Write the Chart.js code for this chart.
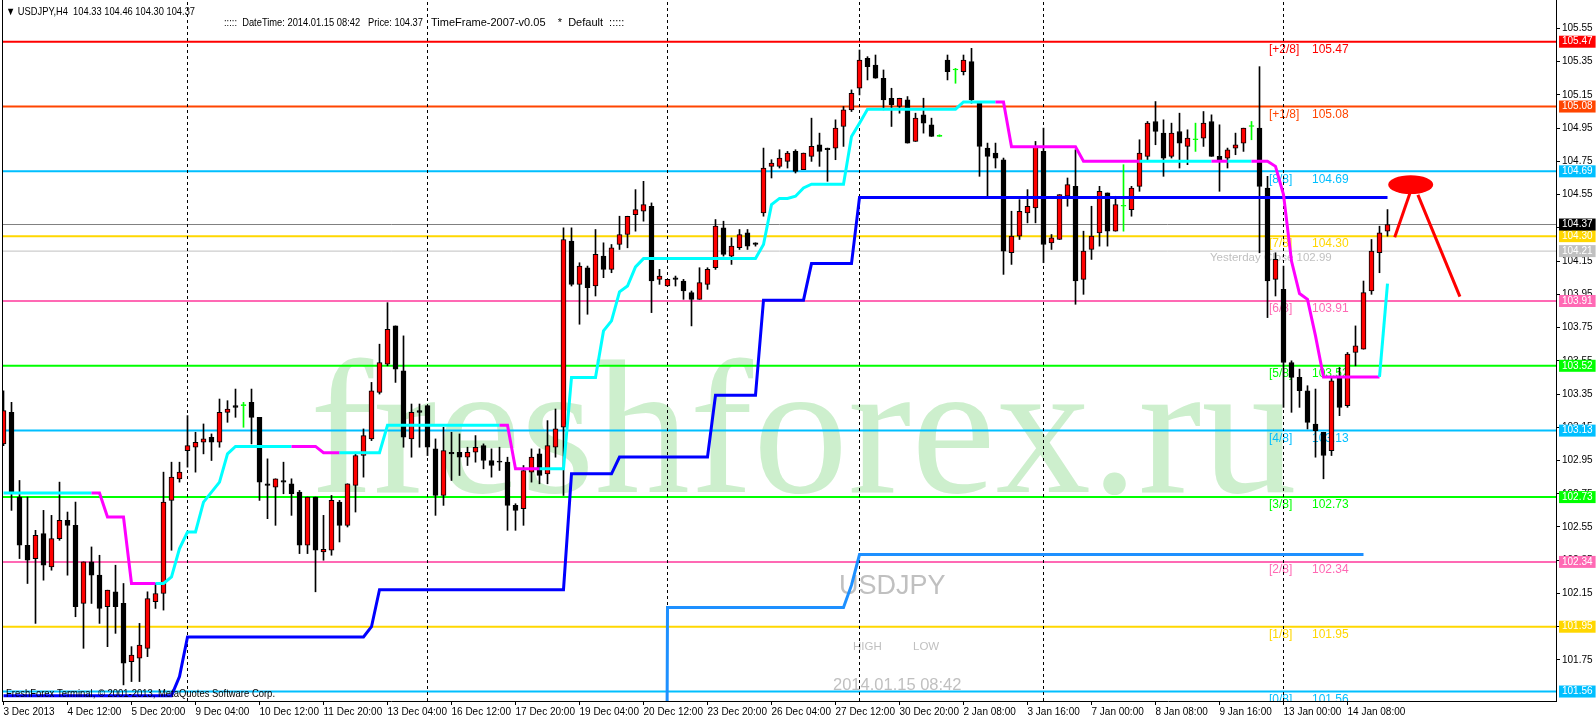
<!DOCTYPE html>
<html><head><meta charset="utf-8">
<script src="https://cdn.jsdelivr.net/npm/chart.js@4.4.1/dist/chart.umd.min.js"></script>
<style>html,body{margin:0;padding:0;background:#fff;overflow:hidden}canvas{display:block}</style>
</head><body>
<canvas id="c" width="1596" height="720"></canvas>
<script>
// ---------- data ----------
const xLabels = ["3 Dec 2013","4 Dec 12:00","5 Dec 20:00","9 Dec 04:00","10 Dec 12:00","11 Dec 20:00","13 Dec 04:00","16 Dec 12:00","17 Dec 20:00","19 Dec 04:00","20 Dec 12:00","23 Dec 20:00","26 Dec 04:00","27 Dec 12:00","30 Dec 20:00","2 Jan 08:00","3 Jan 16:00","7 Jan 00:00","8 Jan 08:00","9 Jan 16:00","13 Jan 00:00","14 Jan 08:00"];
const xTickIdx = [0,8,16,24,32,40,48,56,64,72,80,88,96,104,112,120,128,136,144,152,160,168];
const weekSeparators = [23,53,83,107,130,160];

const openP = [103.05,103.24,102.73,102.44,102.36,102.51,102.31,102.48,102.59,102.56,
102.09,102.34,102.26,102.07,102.16,102.09,101.74,101.76,101.82,102.10,
102.15,102.71,102.84,103.01,103.03,103.06,103.09,103.06,103.24,103.28,
103.28,103.30,103.21,102.81,102.79,102.83,102.81,102.76,102.44,102.73,
102.40,102.41,102.70,102.56,102.80,102.98,103.08,103.36,103.53,103.76,
103.49,103.08,103.25,103.28,103.02,102.74,103.00,103.00,102.97,103.00,
103.04,102.95,102.945,102.94,102.68,102.66,102.88,102.99,102.87,103.03,
103.15,104.27,104.01,104.11,104.00,104.18,104.10,104.25,104.31,104.43,
104.45,104.48,104.04,104.00,104.05,104.03,103.96,103.92,104.01,104.11,
104.35,104.18,104.23,104.32,104.26,104.44,104.72,104.72,104.75,104.81,
104.70,104.78,104.85,104.83,104.83,104.96,105.06,105.19,105.37,105.33,
105.25,105.13,105.08,105.12,104.87,105.03,104.97,104.90,105.36,105.30,
105.29,105.35,105.10,104.83,104.80,104.76,104.20,104.30,104.44,104.47,
104.81,104.26,104.28,104.54,104.60,104.04,104.22,104.32,104.56,104.33,
104.48,104.46,104.60,104.78,104.99,104.92,104.78,104.93,104.84,104.88,
104.89,104.99,104.78,104.77,104.83,104.86,104.96,104.95,104.59,104.04,
103.98,103.54,103.45,103.37,103.17,103.12,103.01,103.45,103.28,103.60,
103.62,103.97,104.20,104.33];
const highP = [103.37,103.30,102.83,102.73,102.53,102.65,102.62,102.82,102.64,102.70,
102.34,102.43,102.38,102.17,102.32,102.21,101.83,101.97,102.16,102.21,
102.88,102.94,102.94,103.22,103.12,103.17,103.11,103.32,103.31,103.38,
103.30,103.38,103.21,102.96,102.84,102.94,102.84,102.77,102.73,102.73,
102.62,102.74,102.71,102.81,103.00,103.14,103.42,103.65,103.90,103.76,
103.70,103.29,103.29,103.28,103.08,103.15,103.12,103.11,103.03,103.10,
103.05,103.02,103.03,102.97,102.69,102.92,103.02,103.02,103.19,103.26,
104.35,104.35,104.14,104.12,104.34,104.26,104.25,104.42,104.42,104.58,
104.63,104.50,104.10,104.04,104.06,104.04,103.97,104.11,104.11,104.40,
104.39,104.29,104.34,104.34,104.26,104.83,104.76,104.82,104.81,104.82,
104.80,105.01,104.92,104.83,105.00,105.08,105.18,105.42,105.38,105.39,
105.30,105.19,105.13,105.14,105.04,105.13,105.01,104.91,105.39,105.31,
105.39,105.43,105.10,104.86,104.86,104.77,104.45,104.52,104.58,104.87,
104.95,104.31,104.55,104.65,104.82,104.33,104.48,104.60,104.56,104.54,
104.73,104.60,104.88,104.99,105.11,105.00,104.98,105.04,104.94,104.98,
105.05,105.03,104.97,104.83,104.92,104.95,104.99,105.32,104.66,104.20,
104.12,103.55,103.50,103.40,103.38,103.12,103.45,103.51,103.60,103.76,
104.03,104.28,104.36,104.46];
const lowP = [103.04,102.65,102.36,102.21,101.97,102.23,102.29,102.47,102.26,102.01,
101.82,102.09,101.97,101.83,101.91,101.60,101.62,101.62,101.77,102.06,
102.05,102.41,102.82,102.91,102.88,102.99,102.95,103.03,103.18,103.21,
103.15,103.05,102.71,102.60,102.56,102.75,102.62,102.39,102.39,102.16,
102.35,102.38,102.46,102.55,102.64,102.85,103.07,103.35,103.52,103.42,
103.03,102.97,103.03,102.98,102.62,102.68,102.83,102.86,102.92,102.94,
102.90,102.85,102.89,102.53,102.53,102.56,102.82,102.81,102.81,102.97,
102.74,104.00,103.77,103.83,103.94,104.05,104.08,104.22,104.23,104.33,
104.39,103.84,104.01,104.00,104.00,103.92,103.76,103.92,103.98,104.10,
104.18,104.13,104.22,104.22,104.24,104.42,104.65,104.71,104.71,104.68,
104.70,104.75,104.72,104.63,104.76,104.84,105.05,105.15,105.24,105.25,
105.06,104.96,105.04,104.86,104.87,104.92,104.90,104.90,105.24,105.22,
105.27,105.10,104.66,104.54,104.71,104.07,104.13,104.28,104.38,104.38,
104.14,104.22,104.28,104.48,103.89,103.95,104.16,104.24,104.24,104.33,
104.33,104.42,104.57,104.76,104.85,104.66,104.77,104.71,104.73,104.81,
104.84,104.78,104.57,104.71,104.79,104.81,104.88,104.20,103.81,103.94,
103.27,103.24,103.27,103.14,102.97,102.84,102.98,103.22,103.27,103.52,
103.62,103.95,104.08,104.30];
const closeP = [103.25,102.76,102.44,102.35,102.50,102.32,102.48,102.59,102.56,102.07,
102.34,102.26,102.06,102.17,102.07,101.73,101.78,101.84,102.12,102.15,
102.70,102.85,102.88,103.04,103.06,103.08,103.06,103.24,103.26,103.27,
103.28,103.21,102.82,102.80,102.84,102.82,102.75,102.44,102.73,102.41,
102.415,102.71,102.56,102.81,102.98,103.10,103.37,103.54,103.74,103.50,
103.09,103.24,103.24,103.03,102.74,103.01,102.99,102.97,103.00,103.03,
102.95,102.92,102.94,102.68,102.65,102.89,102.97,102.86,103.04,103.14,
104.28,104.01,104.12,103.99,104.19,104.10,104.23,104.31,104.42,104.46,
104.49,104.03,104.06,104.04,104.04,103.97,103.92,104.02,104.10,104.36,
104.19,104.24,104.31,104.24,104.25,104.71,104.74,104.77,104.80,104.69,
104.80,104.84,104.81,104.82,104.95,105.06,105.16,105.36,105.32,105.25,
105.12,105.09,105.13,104.86,105.01,104.98,104.90,104.90,105.29,105.30,
105.36,105.12,104.84,104.78,104.77,104.21,104.30,104.45,104.48,104.84,
104.25,104.29,104.55,104.61,104.03,104.21,104.30,104.57,104.33,104.49,
104.48,104.59,104.80,104.98,104.93,104.77,104.92,104.86,104.89,104.88,
104.98,104.78,104.76,104.82,104.85,104.95,104.96,104.60,104.03,104.16,
103.54,103.45,103.37,103.18,103.13,102.98,103.43,103.27,103.59,103.64,
103.96,104.21,104.32,104.37];

// trailing line (cyan when bullish, magenta when bearish)
const trendLine = [102.755,102.755,102.755,102.755,102.755,102.755,102.755,102.755,102.755,102.755,
102.755,102.755,102.755,102.61,102.61,102.61,102.21,102.21,102.21,102.21,
102.21,102.25,102.42,102.52,102.52,102.70,102.76,102.82,102.99,103.035,
103.035,103.035,103.035,103.035,103.035,103.035,103.035,103.035,103.035,103.035,
102.997,102.997,102.997,102.997,102.997,102.997,102.997,102.997,103.162,103.162,
103.162,103.162,103.162,103.162,103.162,103.162,103.162,103.162,103.162,103.162,
103.162,103.162,103.162,103.162,102.90,102.90,102.90,102.90,102.90,102.90,
102.90,103.45,103.45,103.45,103.45,103.73,103.79,103.965,104.00,104.115,
104.165,104.165,104.165,104.165,104.165,104.165,104.165,104.165,104.165,104.165,
104.165,104.165,104.165,104.165,104.165,104.25,104.49,104.527,104.527,104.54,
104.59,104.613,104.613,104.613,104.613,104.613,104.90,104.98,105.064,105.064,
105.064,105.064,105.064,105.064,105.064,105.064,105.064,105.064,105.064,105.064,
105.108,105.108,105.108,105.108,105.108,105.108,104.838,104.838,104.838,104.838,
104.838,104.838,104.838,104.838,104.838,104.751,104.751,104.751,104.751,104.751,
104.751,104.751,104.751,104.751,104.751,104.751,104.751,104.751,104.751,104.751,
104.751,104.751,104.751,104.751,104.751,104.751,104.751,104.751,104.751,104.72,
104.55,104.15,103.955,103.92,103.70,103.453,103.453,103.453,103.453,103.453,
103.453,103.453,103.453,104.015];
const bearRanges = [[11,19],[36,42],[62,67],[124,142],[151,153],[156,172]];

// blue step line
const stepLine = [101.535,101.535,101.535,101.535,101.535,101.535,101.535,101.535,101.535,101.535,
101.535,101.535,101.535,101.535,101.535,101.535,101.535,101.535,101.535,101.535,
101.535,101.535,101.65,101.888,101.888,101.888,101.888,101.888,101.888,101.888,
101.888,101.888,101.888,101.888,101.888,101.888,101.888,101.888,101.888,101.888,
101.888,101.888,101.888,101.888,101.888,101.888,101.95,102.173,102.173,102.173,
102.173,102.173,102.173,102.173,102.173,102.173,102.173,102.173,102.173,102.173,
102.173,102.173,102.173,102.173,102.173,102.173,102.173,102.173,102.173,102.173,
102.173,102.87,102.87,102.87,102.87,102.87,102.87,102.971,102.971,102.971,
102.971,102.971,102.971,102.971,102.971,102.971,102.971,102.971,102.971,103.343,
103.343,103.343,103.343,103.343,103.343,103.915,103.915,103.915,103.915,103.915,
103.915,104.135,104.135,104.135,104.135,104.135,104.135,104.533,104.533,104.533,
104.533,104.533,104.533,104.533,104.533,104.533,104.533,104.533,104.533,104.533,
104.533,104.533,104.533,104.533,104.533,104.533,104.533,104.533,104.533,104.533,
104.533,104.533,104.533,104.533,104.533,104.533,104.533,104.533,104.533,104.533,
104.533,104.533,104.533,104.533,104.533,104.533,104.533,104.533,104.533,104.533,
104.533,104.533,104.533,104.533,104.533,104.533,104.533,104.533,104.533,104.533,
104.533,104.533,104.533,104.533,104.533,104.533,104.533,104.533,104.533,104.533,
104.533,104.533,104.533,104.533];

// dodger-blue line (starts from below the chart at bar 82)
const lightLine = [null,null,null,null,null,null,null,null,null,null,
null,null,null,null,null,null,null,null,null,null,
null,null,null,null,null,null,null,null,null,null,
null,null,null,null,null,null,null,null,null,null,
null,null,null,null,null,null,null,null,null,null,
null,null,null,null,null,null,null,null,null,null,
null,null,null,null,null,null,null,null,null,null,
null,null,null,null,null,null,null,null,null,null,
null,null,90.0,102.065,102.065,102.065,102.065,102.065,102.065,102.065,
102.065,102.065,102.065,102.065,102.065,102.065,102.065,102.065,102.065,102.065,
102.065,102.065,102.065,102.065,102.065,102.065,102.20,102.384,102.384,102.384,
102.384,102.384,102.384,102.384,102.384,102.384,102.384,102.384,102.384,102.384,
102.384,102.384,102.384,102.384,102.384,102.384,102.384,102.384,102.384,102.384,
102.384,102.384,102.384,102.384,102.384,102.384,102.384,102.384,102.384,102.384,
102.384,102.384,102.384,102.384,102.384,102.384,102.384,102.384,102.384,102.384,
102.384,102.384,102.384,102.384,102.384,102.384,102.384,102.384,102.384,102.384,
102.384,102.384,102.384,102.384,102.384,102.384,102.384,102.384,102.384,102.384,
102.384,null,null,null];

const levelValues = [105.47,105.08,104.69,104.30,103.91,103.52,103.13,102.73,102.34,101.95,101.56];
const levelTags = ["[+2/8]","[+1/8]","[8/8]","[7/8]","[6/8]","[5/8]","[4/8]","[3/8]","[2/8]","[1/8]","[0/8]"];
const bidPrice = 104.37;
const prevLine = 104.21;
const yesterdayClose = 102.99;
const yTicks = [105.55,105.35,105.15,104.95,104.75,104.55,104.35,104.15,103.95,103.75,103.55,103.35,103.15,102.95,102.75,102.55,102.35,102.15,101.95,101.75];
const lastBar = {o:104.33, h:104.46, l:104.30, c:104.37};
const arrowLeft = [{x:173.9,y:104.293},{x:175.8,y:104.558}];
const arrowRight = [{x:176.8,y:104.548},{x:182.05,y:103.936}];
const arrowHead = {x:175.9, y:104.61, rx:2.81, ry:0.057};

// ---------- styles ----------
const levelColors = ['#FF0000','#FF4500','#00BFFF','#FFD700','#FF69B4','#00FF00','#00BFFF','#00FF00','#FF69B4','#FFD700','#00BFFF'];
const X_MIN = -0.0625, X_MAX = 194.0625;
const Y_MAX = 105.721, Y_MIN = 101.503;
const FONT = '"Liberation Sans", Arial, sans-serif';

Chart.defaults.font.family = FONT;
Chart.defaults.font.size = 10;
Chart.defaults.color = '#000';

const isBear = i => bearRanges.some(r => i >= r[0] && i < r[1]);
const candleCol = i => closeP[i] > openP[i] ? '#FF0000' : (closeP[i] < openP[i] ? '#000000' : '#00FF00');
const isDoji = i => closeP[i] === openP[i];

const datasets = [];
levelValues.forEach((v,k) => datasets.push({
  type:'line', data:[{x:X_MIN,y:v},{x:X_MAX,y:v}], borderColor:levelColors[k], borderWidth:2,
  pointRadius:0, order:100
}));
datasets.push({type:'line', data:[{x:X_MIN,y:bidPrice},{x:X_MAX,y:bidPrice}], borderColor:'#808080', borderWidth:1, pointRadius:0, order:99});
datasets.push({type:'line', data:[{x:X_MIN,y:prevLine},{x:X_MAX,y:prevLine}], borderColor:'#C0C0C0', borderWidth:1, pointRadius:0, order:99});
weekSeparators.forEach(s => datasets.push({
  type:'line', data:[{x:s,y:Y_MIN},{x:s,y:Y_MAX}], borderColor:'#000', borderWidth:1, borderDash:[3,3],
  pointRadius:0, order:95
}));
datasets.push({
  type:'bar', data: lowP.map((l,i)=>({x:i,y:[l,highP[i]]})), grouped:false, barThickness:1,
  backgroundColor: lowP.map((_,i)=> isDoji(i) ? '#00FF00' : '#000000'), borderWidth:0, order:50
});
datasets.push({
  type:'bar', data: openP.map((o,i)=>({x:i,y:[o,closeP[i]]})), grouped:false, barThickness:5, minBarLength:1,
  backgroundColor: openP.map((_,i)=>candleCol(i)),
  borderColor: openP.map((_,i)=> isDoji(i) ? '#00FF00' : '#000000'),
  borderWidth:1, borderSkipped:false, order:40
});
datasets.push({
  type:'line', data: lightLine.map((v,i)=>({x:i,y:v})), borderColor:'#1E90FF', borderWidth:3,
  pointRadius:0, spanGaps:false, order:12
});
datasets.push({
  type:'line', data: stepLine.map((v,i)=>({x:i,y:v})), borderColor:'#0000FF', borderWidth:3,
  pointRadius:0, order:11
});
datasets.push({
  type:'line', data: trendLine.map((v,i)=>({x:i,y:v})), borderColor:'#00FFFF', borderWidth:3,
  pointRadius:0, order:10,
  segment:{ borderColor: c => isBear(c.p0DataIndex) ? '#FF00FF' : '#00FFFF' }
});
datasets.push({type:'line', data: arrowLeft, borderColor:'#FF0000', borderWidth:3, pointRadius:0, order:5, clip:false});
datasets.push({type:'line', data: arrowRight, borderColor:'#FF0000', borderWidth:3, pointRadius:0, order:5, clip:false});

const markerVals = [...levelValues, bidPrice, prevLine];
const markerBg = [...levelColors, '#000000', '#C0C0C0'];

function fitText(ctx, txt, x, y, w, font, color) {
  ctx.save(); ctx.font = font; ctx.fillStyle = color; ctx.textBaseline = 'middle'; ctx.textAlign = 'left';
  const m = ctx.measureText(txt).width;
  ctx.translate(x, y); if (w) ctx.scale(w / m, 1); ctx.fillText(txt, 0, 0); ctx.restore();
}

const decor = {
  id:'decor',
  beforeDatasetsDraw(chart) {
    const {ctx, chartArea:a, scales:{x, y}} = chart;
    ctx.save();
    ctx.beginPath(); ctx.rect(a.left, a.top, a.right - a.left, a.bottom - a.top); ctx.clip();
    ctx.font = '190px "Liberation Serif", "Times New Roman", serif';
    ctx.fillStyle = '#CDEFCD'; ctx.textBaseline = 'alphabetic'; ctx.textAlign = 'left';
    ctx.fillText('freshforex.ru', 310, 491.7);
    ctx.font = '12px ' + FONT; ctx.textBaseline = 'middle';
    levelValues.forEach((v,k) => {
      const py = y.getPixelForValue(v) + 8;
      ctx.fillStyle = levelColors[k];
      ctx.fillText(levelTags[k], 1269, py);
      ctx.fillText(v.toFixed(2), 1312, py);
    });
    ctx.fillStyle = '#C0C0C0';
    ctx.font = '11.5px ' + FONT;
    ctx.fillText('Yesterday Close ' + yesterdayClose.toFixed(2), 1210, 258);
    ctx.font = '27px ' + FONT;
    ctx.fillText('USDJPY', 839, 587);
    ctx.font = '11.5px ' + FONT;
    ctx.fillText('HIGH', 853, 647);
    ctx.fillText('LOW', 913, 647);
    ctx.font = '16.5px ' + FONT;
    ctx.fillText('2014.01.15 08:42', 833, 685);
    ctx.restore();
  },
  afterDatasetsDraw(chart) {
    const {ctx, scales:{x, y}} = chart;
    const cx = x.getPixelForValue(arrowHead.x), cy = y.getPixelForValue(arrowHead.y);
    const rx = x.getPixelForValue(arrowHead.x + arrowHead.rx) - cx;
    const ry = cy - y.getPixelForValue(arrowHead.y + arrowHead.ry);
    ctx.save(); ctx.fillStyle = '#FF0000'; ctx.beginPath(); ctx.ellipse(cx, cy, rx, ry, 0, 0, Math.PI * 2); ctx.fill(); ctx.restore();
  },
  afterDraw(chart) {
    const {ctx, chartArea:a} = chart;
    ctx.save();
    ctx.strokeStyle = '#000'; ctx.lineWidth = 1;
    ctx.beginPath(); ctx.moveTo(2.5, 0); ctx.lineTo(2.5, a.bottom + 1); ctx.stroke();
    ctx.restore();
    fitText(ctx, '\u25BC USDJPY,H4  ' + [lastBar.o,lastBar.h,lastBar.l,lastBar.c].map(v=>v.toFixed(2)).join(' '), 6, 11.5, 189, '11px ' + FONT, '#000');
    fitText(ctx, ':::::  DateTime: 2014.01.15 08:42   Price: ' + lastBar.c.toFixed(2), 224, 22.5, 199, '11px ' + FONT, '#000');
    fitText(ctx, 'TimeFrame-2007-v0.05    *  Default  :::::', 431, 22.5, 0, '11px ' + FONT, '#000');
    fitText(ctx, 'FreshForex Terminal, \u00A9 2001-2013, MetaQuotes Software Corp.', 6, 694, 269, '10px ' + FONT, '#000');
  }
};

new Chart(document.getElementById('c'), {
  type:'bar',
  data:{ datasets },
  plugins:[decor],
  options:{
    responsive:false, animation:false, devicePixelRatio:1,
    layout:{ padding:{ left:3, top:0, right:0, bottom:0 } },
    plugins:{ legend:{display:false}, tooltip:{enabled:false} },
    scales:{
      x:{
        type:'linear', min:X_MIN, max:X_MAX, offset:false, bounds:'data',
        grid:{ drawOnChartArea:false, offset:false, tickLength:4, color:'#000' },
        border:{ display:true, color:'#000' },
        ticks:{ autoSkip:false, maxRotation:0, minRotation:0, align:'start', padding:1,
                font:{size:10}, color:'#000', callback:(v, idx) => xLabels[idx] },
        afterBuildTicks: s => { s.ticks = xTickIdx.map(v => ({value:v})); },
        afterFit: s => { s.height = 19; s.paddingLeft = 0; s.paddingRight = 0; }
      },
      y:{
        type:'linear', position:'right', min:Y_MIN, max:Y_MAX, beginAtZero:false, bounds:'data',
        grid:{ drawOnChartArea:false, tickLength:4, color:'#000',
               tickColor: c => c.index >= yTicks.length ? 'rgba(0,0,0,0)' : '#000' },
        border:{ display:true, color:'#000' },
        ticks:{ autoSkip:false, padding:2, font:{size:10},
                color: c => c.index >= yTicks.length ? '#FFFFFF' : '#000000',
                showLabelBackdrop: c => c.index >= yTicks.length,
                backdropColor: c => c.index >= yTicks.length ? markerBg[c.index - yTicks.length] : 'rgba(0,0,0,0)',
                backdropPadding:{top:0, bottom:0, left:3, right:3},
                callback: v => Number(v).toFixed(2) },
        afterBuildTicks: s => { s.ticks = [...yTicks, ...markerVals].map(v => ({value:v})); },
        afterFit: s => { s.width = 40; s.paddingTop = 0; s.paddingBottom = 0; }
      }
    }
  }
});
</script>
</body></html>
